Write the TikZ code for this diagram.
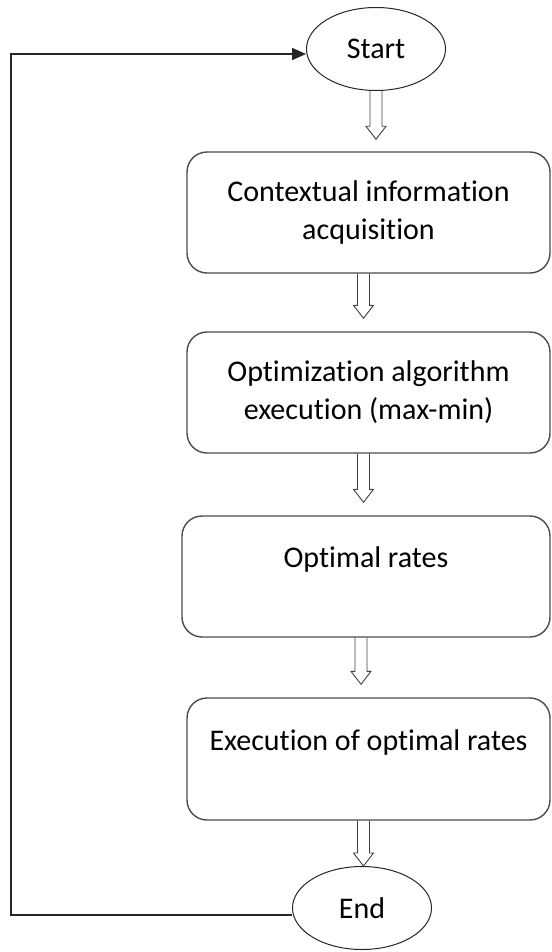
\documentclass[tikz,border=0pt]{standalone}
\usepackage{fontspec}
\setmainfont[Ligatures=NoCommon]{Carlito}
\usepackage{tikz}
\usetikzlibrary{shapes,arrows.meta,calc}

\begin{document}
\begin{tikzpicture}[x=1pt,y=-1pt]
    % Define node styles
    \tikzstyle{stage}=[rectangle, rounded corners=20pt, draw=black!70, line width=1.4pt, minimum width=363pt, minimum height=121pt, inner sep=0pt, align=center, font=\fontsize{30}{38}\selectfont]
    \tikzstyle{terminal}=[ellipse, draw=black!85, line width=1pt, minimum width=139pt, minimum height=83pt, inner sep=0pt, font=\fontsize{30}{38}\selectfont]
    \tikzstyle{hollow}=[draw=black!75, line width=0.9pt, to path={let \p1=(\tikztostart), \p2=(\tikztotarget) in
        (\x1-6pt,\y1) -- (\x1-6pt,\y2+13pt) -- (\x1-10pt,\y2+13pt) -- (\x1,\y2)
        -- (\x1+10pt,\y2+13pt) -- (\x1+6pt,\y2+13pt) -- (\x1+6pt,\y1)}]
    \tikzstyle{loop}=[draw=black!85, line width=1.5pt, -{Triangle[length=14pt,width=12pt]}]

    \useasboundingbox (0,0) rectangle (551,952);

    % Draw start and end
    \node[terminal] (start) at (376,49) {Start};
    \node[terminal] (end) at (362,908) {End};

    % Draw stages
    \node[stage] (S-1) at (368.5,212.5) {Contextual information\\acquisition};
    \node[stage] (S-2) at (368.5,392.5) {Optimization algorithm\\execution (max-min)};
    \node[stage, minimum width=368pt] (S-3) at (366,576.5) {Optimal rates\\ \mbox{}};
    \node[stage, minimum height=122pt] (S-4) at (368.5,759) {Execution of optimal rates\\ \mbox{}};

    % Connect stages
    \draw[hollow] (start.south) to ([yshift=12pt]S-1.north);
    \foreach \i/\j in {1/2,2/3,3/4} {
        \draw[hollow] ([xshift=-5pt]S-\i.south) to ([xshift=-5pt,yshift=13pt]S-\j.north);
    }
    \draw[hollow] ([xshift=-5pt]S-4.south) to (end.north);

    % Feedback line
    \coordinate (back) at (11,54);
    \draw[loop] ([yshift=-7pt]end.west) -| (back) -- ([yshift=-5pt]start.west);
\end{tikzpicture}
\end{document}
